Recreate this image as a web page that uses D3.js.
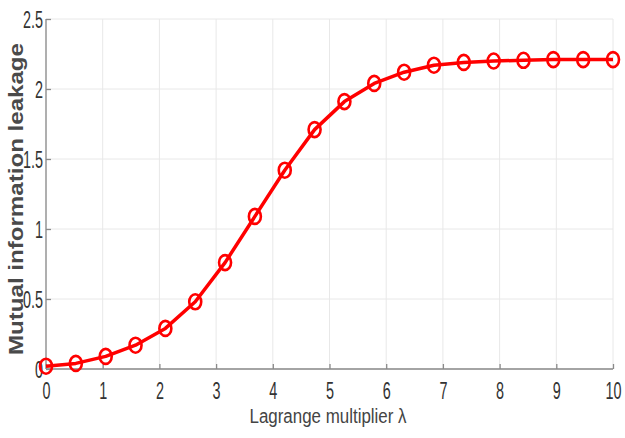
<!DOCTYPE html>
<html>
<head>
<meta charset="UTF-8">
<title>Mutual information leakage</title>
<script src="https://d3js.org/d3.v7.min.js"></script>
<style>
    body { margin: 0; background: #fff; }
    svg { display: block; font-family: Arial, "Liberation Sans", sans-serif; }
    .grid line { stroke: #e8e8e8; stroke-width: 1; }
    .axis path, .axis line { stroke: #8a8a8a; stroke-width: 1.3; }
    .axis text { fill: #333; font-size: 24px; }
</style>
</head>
<body>
<div id="chart"></div>
<script>
    // Lagrange multiplier values (20 evenly spaced points from 0 to 10)
    var lambdaVals = [0, 0.526, 1.053, 1.579, 2.105, 2.632, 3.158, 3.684, 4.211, 4.737,
                      5.263, 5.789, 6.316, 6.842, 7.368, 7.895, 8.421, 8.947, 9.474, 10];
    var leakage = [0.02, 0.04, 0.09, 0.17, 0.29, 0.48, 0.76, 1.09, 1.42, 1.71,
                   1.91, 2.04, 2.12, 2.17, 2.19, 2.20, 2.205, 2.21, 2.21, 2.21];
    var xTicks = [0, 1, 2, 3, 4, 5, 6, 7, 8, 9, 10];
    var yTicks = [0, 0.5, 1, 1.5, 2, 2.5];

    var W = 625, H = 438;
    var margin = {top: 19, right: 12, bottom: 69, left: 46};
    var width = W - margin.left - margin.right,
        height = H - margin.top - margin.bottom;

    var svg = d3.select("#chart").append("svg")
        .attr("width", W)
        .attr("height", H);

    var g = svg.append("g")
        .attr("transform", "translate(" + margin.left + "," + margin.top + ")");

    var x = d3.scaleLinear().domain([0, 10]).range([0, width]);
    var y = d3.scaleLinear().domain([0, 2.5]).range([height, 0]);

    // grid
    g.append("g").attr("class", "grid")
        .selectAll("line").data(xTicks).enter().append("line")
        .attr("x1", function(d) { return x(d); })
        .attr("x2", function(d) { return x(d); })
        .attr("y1", 0).attr("y2", height);
    g.append("g").attr("class", "grid")
        .selectAll("line").data(yTicks).enter().append("line")
        .attr("y1", function(d) { return y(d); })
        .attr("y2", function(d) { return y(d); })
        .attr("x1", 0).attr("x2", width);

    // axes (ticks pointing inward)
    var xAxis = g.append("g").attr("class", "axis")
        .attr("transform", "translate(0," + height + ")")
        .call(d3.axisBottom(x).tickValues(xTicks).tickSize(-5).tickSizeOuter(0)
            .tickFormat(d3.format("d")));
    xAxis.selectAll("text")
        .attr("y", 13)
        .attr("transform", "scale(0.6,1)");

    var yAxis = g.append("g").attr("class", "axis")
        .call(d3.axisLeft(y).tickValues(yTicks).tickSize(-5).tickSizeOuter(0)
            .tickFormat(function(d) { return String(d); }));
    yAxis.selectAll("text")
        .attr("x", -5)
        .attr("dy", "0.36em")
        .attr("transform", "scale(0.6,1)");
    xAxis.select(".domain").attr("d", "M0,0H" + width);
    yAxis.select(".domain").attr("d", "M0,0V" + height);

    // curve
    var pts = lambdaVals.map(function(d, i) { return [d, leakage[i]]; });
    var line = d3.line()
        .x(function(d) { return x(d[0]); })
        .y(function(d) { return y(d[1]); });

    g.append("path")
        .datum(pts)
        .attr("d", line)
        .attr("fill", "none")
        .attr("stroke", "#ff0000")
        .attr("stroke-width", 3.5)
        .attr("stroke-linejoin", "round");

    g.selectAll(".marker").data(pts).enter().append("ellipse")
        .attr("class", "marker")
        .attr("cx", function(d) { return x(d[0]); })
        .attr("cy", function(d) { return y(d[1]); })
        .attr("rx", 6)
        .attr("ry", 7.5)
        .attr("fill", "none")
        .attr("stroke", "#ff0000")
        .attr("stroke-width", 2.6);

    // axis titles
    svg.append("text")
        .attr("x", 328)
        .attr("y", 423)
        .attr("text-anchor", "middle")
        .attr("font-size", 20)
        .attr("fill", "#444")
        .attr("textLength", 157)
        .attr("lengthAdjust", "spacingAndGlyphs")
        .text("Lagrange multiplier \u03bb");

    svg.append("text")
        .attr("transform", "translate(23,199) rotate(-90)")
        .attr("text-anchor", "middle")
        .attr("font-size", 20)
        .attr("font-weight", "bold")
        .attr("fill", "#4a4a4a")
        .attr("textLength", 312)
        .attr("lengthAdjust", "spacingAndGlyphs")
        .text("Mutual information leakage");
</script>
</body>
</html>
